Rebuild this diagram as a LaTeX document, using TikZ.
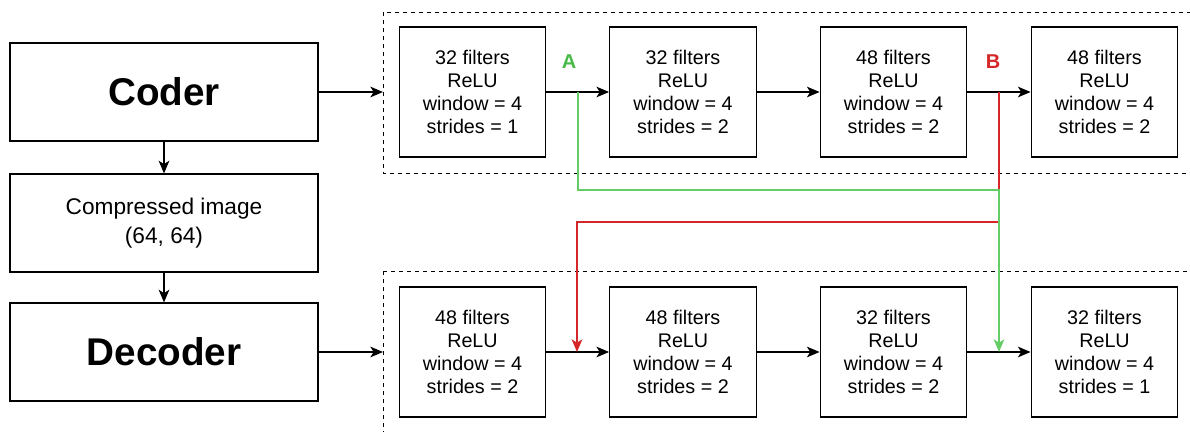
\documentclass[tikz,border=0pt]{standalone}
\usepackage{fontspec}
\setmainfont{Liberation Sans}
\usepackage{xcolor}
\usetikzlibrary{arrows.meta}
\definecolor{agreen}{RGB}{102,204,102}
\definecolor{labgreen}{RGB}{70,185,70}
\definecolor{bred}{RGB}{214,39,40}
\begin{document}
\begin{tikzpicture}[x=0.75pt,y=-0.75pt,>={Stealth[length=9.5pt,width=8pt,inset=2.5pt]},
layer/.style={draw,line width=0.9pt,minimum width=110pt,minimum height=97.5pt,align=center,font=\fontsize{14.8}{17.3}\selectfont},
block/.style={draw,line width=0.9pt,minimum width=231pt,minimum height=73.5pt,align=center},
frame/.style={dash pattern=on 3pt off 3pt,line width=0.6pt},
link/.style={line width=0.9pt,->}]
\useasboundingbox (0,0) rectangle (1190,432);
\clip (0,0) rectangle (1190,432);
\draw[frame](383,12) rectangle (1210,173);
\draw[frame](383,271) rectangle (1210,450);
\node[block,font=\fontsize{29}{33}\selectfont\bfseries] (coder) at (164,92) {Coder};
\node[block,font=\fontsize{17}{21.5}\selectfont] (comp) at (164,223) {Compressed image\\(64, 64)};
\node[block,font=\fontsize{29}{33}\selectfont\bfseries] (decoder) at (164,352) {Decoder};
\node[layer] (enc1) at (472.5,92) {32 filters\\ReLU\\window = 4\\strides = 1};
\node[layer] (enc2) at (683,92) {32 filters\\ReLU\\window = 4\\strides = 2};
\node[layer] (enc3) at (893.5,92) {48 filters\\ReLU\\window = 4\\strides = 2};
\node[layer] (enc4) at (1104.5,92) {48 filters\\ReLU\\window = 4\\strides = 2};
\node[layer] (dec1) at (472.5,352) {48 filters\\ReLU\\window = 4\\strides = 2};
\node[layer] (dec2) at (683,352) {48 filters\\ReLU\\window = 4\\strides = 2};
\node[layer] (dec3) at (893.5,352) {32 filters\\ReLU\\window = 4\\strides = 2};
\node[layer] (dec4) at (1104.5,352) {32 filters\\ReLU\\window = 4\\strides = 1};
\node[font=\fontsize{15}{17}\selectfont\bfseries,text=labgreen] (labA) at (569,62) {A};
\node[font=\fontsize{15}{17}\selectfont\bfseries,text=bred] (labB) at (993,62) {B};
\coordinate (encin) at (383,92);
\coordinate (decin) at (383,352);
\coordinate (A) at (578,92);
\coordinate (B) at (999,92);
\coordinate (Aend) at (999,352);
\coordinate (Bend) at (577,352);
\draw[link](coder)--(encin);
\draw[link](decoder)--(decin);
\draw[link](coder)--(comp);
\draw[link](comp)--(decoder);
\draw[link](enc1)--(enc2);
\draw[link](enc2)--(enc3);
\draw[link](enc3)--(enc4);
\draw[link](dec1)--(dec2);
\draw[link](dec2)--(dec3);
\draw[link](dec3)--(dec4);
\draw[link,bred](B)--++(0,130)-|(Bend);
\draw[link,agreen](A)--++(0,98)-|(Aend);
\end{tikzpicture}
\end{document}
